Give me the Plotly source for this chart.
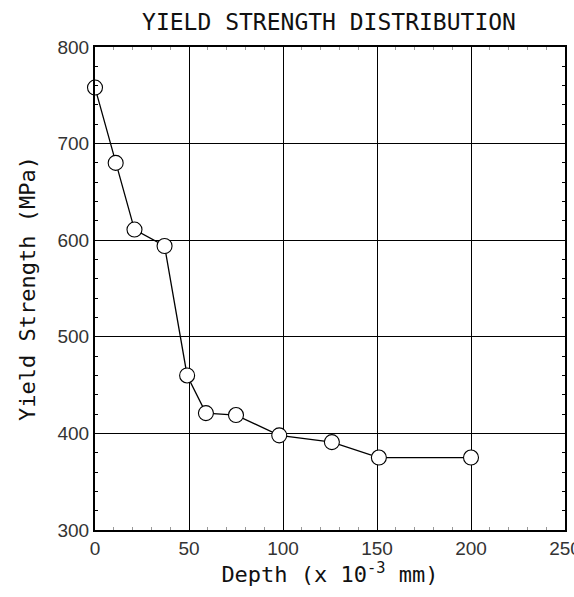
import plotly.graph_objects as go

# Measured yield strength versus depth below the surface
depth = [0, 11, 21, 37, 49, 59, 75, 98, 126, 151, 200]
yield_strength = [758, 680, 611, 594, 460, 421, 419, 398, 391, 375, 375]

x_ticks = [0, 50, 100, 150, 200, 250]
y_ticks = [300, 400, 500, 600, 700, 800]

mono = "DejaVu Sans Mono"
sans = "Liberation Sans"

fig = go.Figure(
    go.Scatter(
        x=depth,
        y=yield_strength,
        mode="lines+markers",
        line=dict(color="black", width=1.3),
        marker=dict(symbol="circle", size=15, color="white",
                    line=dict(color="black", width=1.1)),
        cliponaxis=False,
        showlegend=False,
    )
)

axis_common = dict(
    showline=True, linecolor="black", linewidth=2, mirror="allticks",
    showgrid=True, gridcolor="black", gridwidth=1,
    ticks="inside", ticklen=4, tickcolor="black", tickwidth=1,
    zeroline=False, automargin=False,
    ticklabeloverflow="allow",
    tickfont=dict(family=sans, size=19, color="#333"),
)

fig.update_xaxes(
    range=[0, 250], tickvals=x_ticks,
    minor=dict(dtick=10, ticks="inside", ticklen=3, tickcolor="#999", showgrid=False),
    title=dict(text="Depth (x 10<sup>-3</sup> mm)",
               font=dict(family=mono, size=22, color="#111"), standoff=4),
    **axis_common,
)
fig.update_yaxes(
    range=[300, 800], tickvals=y_ticks,
    minor=dict(dtick=20, ticks="inside", ticklen=3, tickcolor="black", showgrid=False),
    title=dict(text="Yield Strength (MPa)",
               font=dict(family=mono, size=22, color="#111"), standoff=16),
    **axis_common,
)

fig.update_layout(
    width=574, height=597,
    margin=dict(l=95, r=9, t=47, b=67),
    paper_bgcolor="white", plot_bgcolor="white",
    title=dict(text="YIELD STRENGTH DISTRIBUTION", x=329 / 574, xanchor="center",
               y=1 - 22 / 597, yanchor="middle",
               font=dict(family=mono, size=23, color="#111")),
)

fig.write_html("out.html")
